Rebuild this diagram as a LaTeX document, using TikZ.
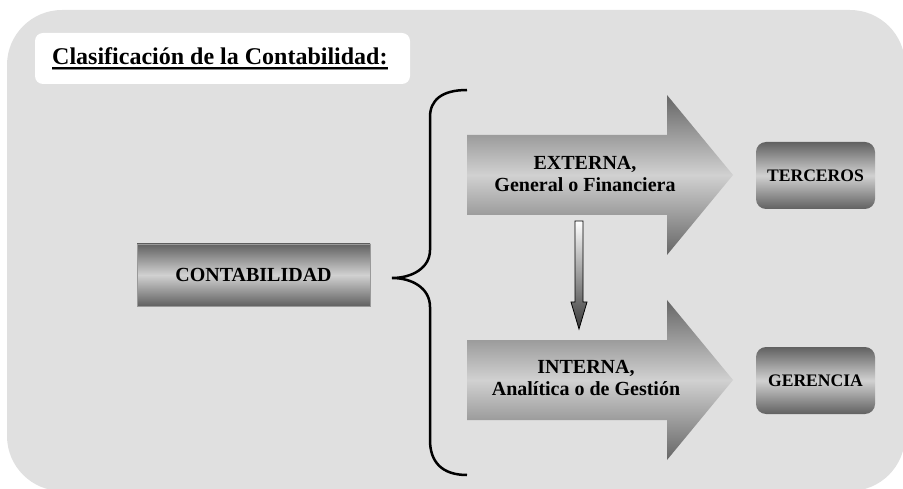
\documentclass[tikz,border=0pt]{standalone}
\usepackage{fontspec}
\setmainfont{Liberation Serif}
\definecolor{fondo}{gray}{0.88}
\tikzset{
  caja/.style={top color=black!62, bottom color=black!62, middle color=black!18,
    inner sep=0, font=\bfseries\fontsize{17.6}{20}\selectfont},
  texto/.style={align=center, inner sep=0, font=\bfseries\fontsize{20}{22.5}\selectfont},
  flecha/.style={top color=black!60, bottom color=black!60, middle color=black!18},
}
\begin{document}
\begin{tikzpicture}[x=1pt,y=-1pt]
        \useasboundingbox (0,0) rectangle (903,489);
        \fill [fondo, rounded corners=55] (7,10) rectangle (905,491);
        % title
        \fill [white, rounded corners=8] (35,33) rectangle (410,84);
        \node [anchor=base west, inner sep=0, font=\bfseries\fontsize{24}{28}\selectfont] (titulo) at (52,65) {Clasificación de la Contabilidad:};
        \draw [line width=1.2pt] ([yshift=-3pt]titulo.base west) -- ([yshift=-3pt]titulo.base east);
        \draw [black!45, line width=1pt] ([yshift=-5pt]titulo.base west) -- ([yshift=-5pt]titulo.base east);
        % left box
        \node [caja, draw=black!40, thin, minimum width=233, minimum height=62, font=\bfseries\fontsize{20}{22}\selectfont] (conta) at (253.5,275) {CONTABILIDAD};
        % brace
        \draw [line width=2.5pt] (467,90) .. controls (442,90) and (430,100) .. (430,117) -- (430,250)
            .. controls (430,268) and (412,278) .. (392,278)
            .. controls (412,278) and (430,288) .. (430,307) -- (430,440)
            .. controls (430,462) and (442,475) .. (467,475);
        % big arrows
        \foreach \y in {175,380}{
            \shade [flecha] (467,\y-40) -- (667,\y-40) -- (667,\y-80) -- (733,\y)
                -- (667,\y+80) -- (667,\y+40) -- (467,\y+40) -- cycle;
        }
        \node [texto] (ext) at (585,174) {EXTERNA,\\General o Financiera};
        \node [texto] (int) at (586,378) {INTERNA,\\Analítica o de Gestión};
        % right boxes
        \node [caja, rounded corners=10, minimum width=119, minimum height=67] (terc) at (815.5,175.5) {TERCEROS};
        \node [caja, rounded corners=10, minimum width=119, minimum height=67] (ger) at (815.5,380.5) {GERENCIA};
        % down arrow
        \coordinate (bajA) at (579,221);
        \coordinate (bajB) at (579,329);
        \shade [top color=white, bottom color=black!78, draw=black, line width=.8pt]
            ([xshift=-4pt]bajA) -- ([xshift=4pt]bajA) -- ([xshift=4pt,yshift=27pt]bajB)
            -- ([xshift=8pt,yshift=27pt]bajB) -- (bajB) -- ([xshift=-8pt,yshift=27pt]bajB)
            -- ([xshift=-4pt,yshift=27pt]bajB) -- cycle;
\end{tikzpicture}
\end{document}
